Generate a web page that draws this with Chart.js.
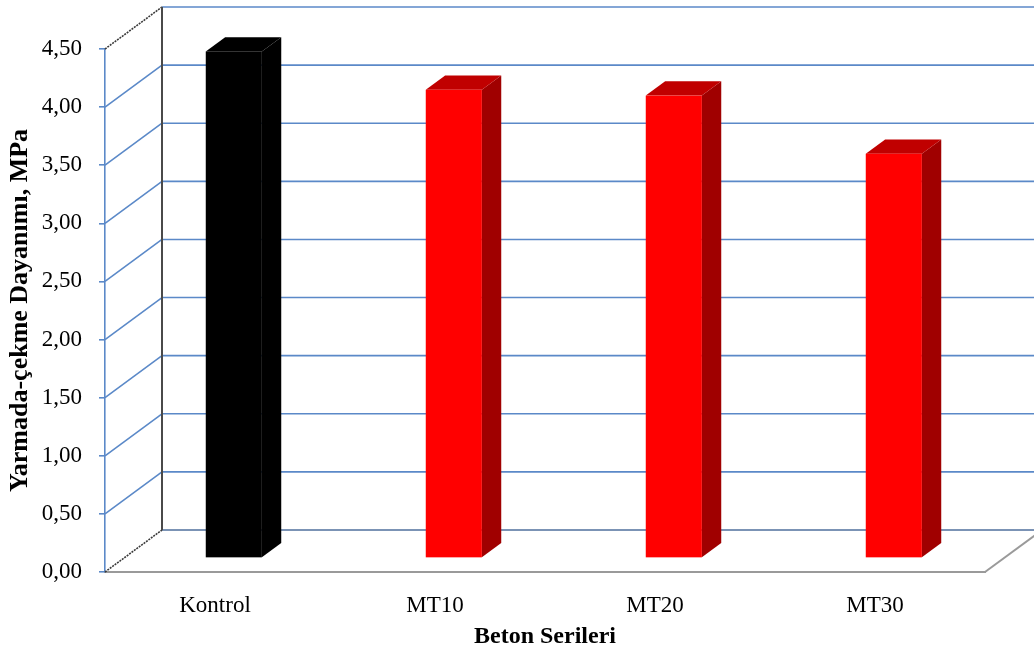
<!DOCTYPE html>
<html>
<head>
<meta charset="utf-8">
<script src="https://cdn.jsdelivr.net/npm/chart.js@4.4.1/dist/chart.umd.min.js"></script>
<style>
  html, body { margin: 0; padding: 0; background: #fff; }
  canvas { display: block; }
</style>
</head>
<body>
<canvas id="chart" width="1034" height="651"></canvas>
<script>
// data
const categories = ["Kontrol", "MT10", "MT20", "MT30"];
const strengths = [4.36, 4.03, 3.98, 3.48];
const yTickValues = [0, 0.5, 1, 1.5, 2, 2.5, 3, 3.5, 4, 4.5];
const yTickLabels = ["0,00", "0,50", "1,00", "1,50", "2,00", "2,50", "3,00", "3,50", "4,00", "4,50"];
const yTitle = "Yarmada-çekme Dayanımı, MPa";
const xTitle = "Beton Serileri";

// bar colours: front face, top face, side face
const frontColors = ["#000000", "#ff0000", "#ff0000", "#ff0000"];
const topColors = ["#000000", "#c00000", "#c00000", "#c00000"];
const sideColors = ["#000000", "#a00000", "#a00000", "#a00000"];

// fake 3D: how far the back wall sits from the front plane
const DEPTH_X = 57;
const DEPTH_Y = -42;
const BAR_FRONT = 0.33;
const BAR_BACK = 0.67;

const GRID_BLUE = "#5b89c8";
const FONT = "'Liberation Serif', 'Times New Roman', serif";

const box3d = {
  id: "box3d",
  beforeDatasetsDraw(chart) {
    const { ctx, chartArea: a, scales } = chart;
    const y = scales.y;
    const top = y.getPixelForValue(yTickValues[yTickValues.length - 1]);
    const bottom = y.getPixelForValue(0);
    ctx.save();
    ctx.lineCap = "butt";

    // back wall + side wall grid lines
    yTickValues.forEach((v, i) => {
      const py = y.getPixelForValue(v);
      const last = i === yTickValues.length - 1;
      ctx.lineWidth = 1.6;
      ctx.strokeStyle = i === 0 ? "#4f6f9c" : GRID_BLUE;
      ctx.beginPath();
      ctx.moveTo(a.left + DEPTH_X, py + DEPTH_Y);
      ctx.lineTo(a.right + DEPTH_X, py + DEPTH_Y);
      ctx.stroke();

      ctx.beginPath();
      if (i === 0 || last) {
        ctx.strokeStyle = "#3a3a3a";
        ctx.setLineDash([2, 1]);
      } else {
        ctx.strokeStyle = GRID_BLUE;
        ctx.setLineDash([]);
      }
      ctx.moveTo(a.left, py);
      ctx.lineTo(a.left + DEPTH_X, py + DEPTH_Y);
      ctx.stroke();
      ctx.setLineDash([]);
    });

    // back wall left edge
    ctx.strokeStyle = "#4a4a4a";
    ctx.lineWidth = 2;
    ctx.beginPath();
    ctx.moveTo(a.left + DEPTH_X, bottom + DEPTH_Y);
    ctx.lineTo(a.left + DEPTH_X, top + DEPTH_Y);
    ctx.stroke();

    // floor right edge
    ctx.strokeStyle = "#9a9a9a";
    ctx.beginPath();
    ctx.moveTo(a.right, bottom);
    ctx.lineTo(a.right + DEPTH_X, bottom + DEPTH_Y);
    ctx.stroke();

    // bars as boxes, placed from the bar elements the library laid out
    const meta = chart.getDatasetMeta(0);
    const fx = BAR_FRONT * DEPTH_X, fy = BAR_FRONT * DEPTH_Y;
    const dx = (BAR_BACK - BAR_FRONT) * DEPTH_X, dy = (BAR_BACK - BAR_FRONT) * DEPTH_Y;
    meta.data.forEach((bar, i) => {
      const p = bar.getProps(["x", "y", "base", "width"], true);
      const l = p.x - p.width / 2 + fx, r = p.x + p.width / 2 + fx;
      const t = p.y + fy, b = p.base + fy;

      ctx.fillStyle = sideColors[i];
      ctx.beginPath();
      ctx.moveTo(r, t);
      ctx.lineTo(r + dx, t + dy);
      ctx.lineTo(r + dx, b + dy);
      ctx.lineTo(r, b);
      ctx.closePath();
      ctx.fill();

      ctx.fillStyle = topColors[i];
      ctx.beginPath();
      ctx.moveTo(l, t);
      ctx.lineTo(l + dx, t + dy);
      ctx.lineTo(r + dx, t + dy);
      ctx.lineTo(r, t);
      ctx.closePath();
      ctx.fill();

      ctx.fillStyle = frontColors[i];
      ctx.fillRect(l, t, r - l, b - t);
    });

    ctx.restore();
    return false;
  }
};

new Chart(document.getElementById("chart"), {
  type: "bar",
  data: {
    labels: categories,
    datasets: [{
      data: strengths,
      backgroundColor: frontColors,
      categoryPercentage: 1,
      barPercentage: 0.255
    }]
  },
  options: {
    responsive: false,
    animation: false,
    layout: { padding: { top: 49, right: 49, left: 0, bottom: 0 } },
    plugins: { legend: { display: false }, tooltip: { enabled: false } },
    scales: {
      x: {
        afterFit: s => { s.height = 79; },
        grid: { display: false },
        border: { display: true, color: "#9a9a9a", width: 2 },
        ticks: { color: "#000", font: { family: FONT, size: 23 }, padding: 12 },
        title: {
          display: true, text: xTitle, color: "#000",
          font: { family: FONT, size: 24, weight: "bold" },
          padding: { top: 0, bottom: 0 }
        }
      },
      y: {
        min: 0, max: 4.5,
        afterFit: s => { s.width = 105; },
        afterBuildTicks: s => { s.ticks = yTickValues.map(v => ({ value: v })); },
        grid: { drawOnChartArea: false, drawTicks: true, tickLength: 6, color: GRID_BLUE, lineWidth: 1.6 },
        border: { display: true, color: GRID_BLUE, width: 1.6 },
        ticks: {
          color: "#000", font: { family: FONT, size: 23 }, padding: 17,
          callback: (v, i) => yTickLabels[i]
        },
        title: {
          display: true, text: yTitle, color: "#000",
          font: { family: FONT, size: 26, weight: "bold" },
          padding: { top: 5, bottom: 0 }
        }
      }
    }
  },
  plugins: [box3d]
});
</script>
</body>
</html>
